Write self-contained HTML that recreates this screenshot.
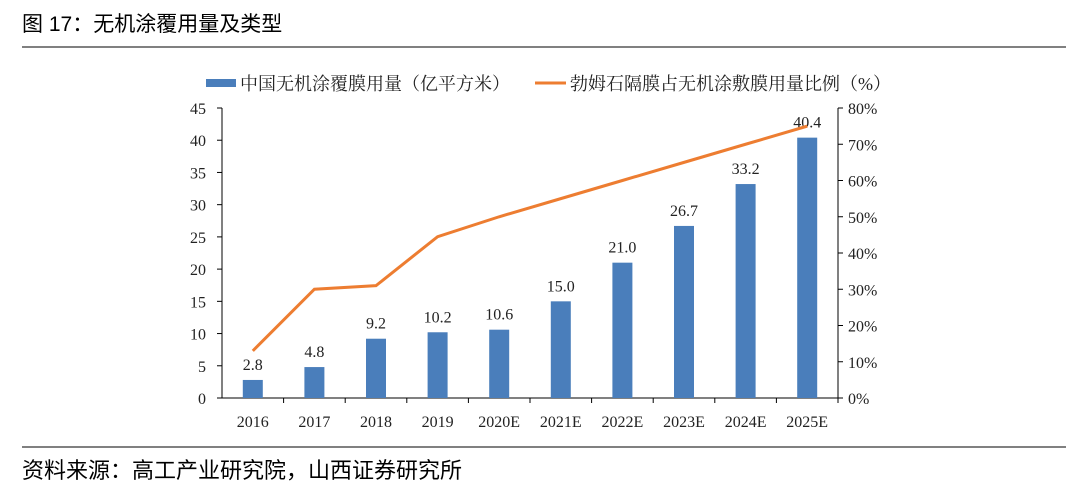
<!DOCTYPE html>
<html><head><meta charset="utf-8"><style>
body{margin:0;background:#fff;width:1080px;height:497px;overflow:hidden;font-family:"Liberation Serif","Noto Serif CJK SC",serif;}
svg text{font-family:"Liberation Serif","Noto Serif CJK SC",serif;}
</style></head><body>
<svg width="1080" height="497">
<text x="22" y="31" font-size="21" fill="#000" style="font-family:'Liberation Sans','Noto Sans CJK SC',sans-serif">图 17：无机涂覆用量及类型</text>
<line x1="22" y1="47" x2="1066" y2="47" stroke="#000" stroke-width="1"/>
<line x1="22" y1="447" x2="1066" y2="447" stroke="#000" stroke-width="1"/>
<text x="22" y="478" font-size="22" fill="#000" style="font-family:'Liberation Sans','Noto Sans CJK SC',sans-serif">资料来源：高工产业研究院，山西证券研究所</text>
<g>
<rect x="206" y="79" width="30" height="8" fill="#4a7ebb"/>
<text x="240" y="90" font-size="18" fill="#222">中国无机涂覆膜用量（亿平方米）</text>
<line x1="535" y1="83" x2="566" y2="83" stroke="#ed7d31" stroke-width="3"/>
<text x="570" y="90" font-size="18" fill="#222">勃姆石隔膜占无机涂敷膜用量比例（%）</text>
</g>
<g id="plot"></g>
</svg>
<script>
const categories=["2016","2017","2018","2019","2020E","2021E","2022E","2023E","2024E","2025E"];
const barValues=[2.8,4.8,9.2,10.2,10.6,15.0,21.0,26.7,33.2,40.4];
const lineValues=[13,30,31,44.5,50,55,60,65,70,75];
const leftTicks=[0,5,10,15,20,25,30,35,40,45];
const rightTicks=[0,10,20,30,40,50,60,70,80];
const X0=222,X1=838,Y0=398,Y1=108;
const yL=v=>Y0-(v/45)*(Y0-Y1);
const yR=v=>Y0-(v/80)*(Y0-Y1);
const bw=(X1-X0)/categories.length;
const xc=i=>X0+bw*(i+0.5);
const g=document.getElementById('plot');
const NS="http://www.w3.org/2000/svg";
function mk(t,a){const e=document.createElementNS(NS,t);for(const k in a)e.setAttribute(k,a[k]);g.appendChild(e);return e;}
let e=mk('line',{x1:X0,y1:Y1,x2:X0,y2:Y0,stroke:'#000'});


e=mk('line',{x1:X1,y1:Y1,x2:X1,y2:Y0,stroke:'#000'});


e=mk('line',{x1:X0,y1:Y0,x2:X1,y2:Y0,stroke:'#000'});


leftTicks.forEach(v=>{const y=yL(v);
e=mk('line',{x1:X0-5,y1:y,x2:X0,y2:y,stroke:'#000'});


e=mk('text',{x:X0-16,y:y+6,'text-anchor':'end','font-size':16,fill:'#222'});e.textContent=v;

});
rightTicks.forEach(v=>{const y=yR(v);
e=mk('line',{x1:X1,y1:y,x2:X1+5,y2:y,stroke:'#000'});


e=mk('text',{x:X1+10,y:y+6,'font-size':16,fill:'#222'});e.textContent=v+'%';

});
categories.forEach((c,i)=>{
e=mk('line',{x1:X0+bw*(i+1),y1:Y0,x2:X0+bw*(i+1),y2:Y0+5,stroke:'#000'});


e=mk('text',{x:xc(i),y:Y0+29,'text-anchor':'middle','font-size':16,fill:'#222'});e.textContent=c;


const v=barValues[i];
e=mk('rect',{x:xc(i)-10,y:yL(v),width:20,height:Y0-yL(v),fill:'#4a7ebb'});


e=mk('text',{x:xc(i),y:yL(v)-10,'text-anchor':'middle','font-size':16,fill:'#222'});e.textContent=v.toFixed(1);


});
e=mk('polyline',{points:lineValues.map((v,i)=>xc(i)+','+yR(v)).join(' '),fill:'none',stroke:'#ed7d31','stroke-width':3});


</script>
</body></html>
